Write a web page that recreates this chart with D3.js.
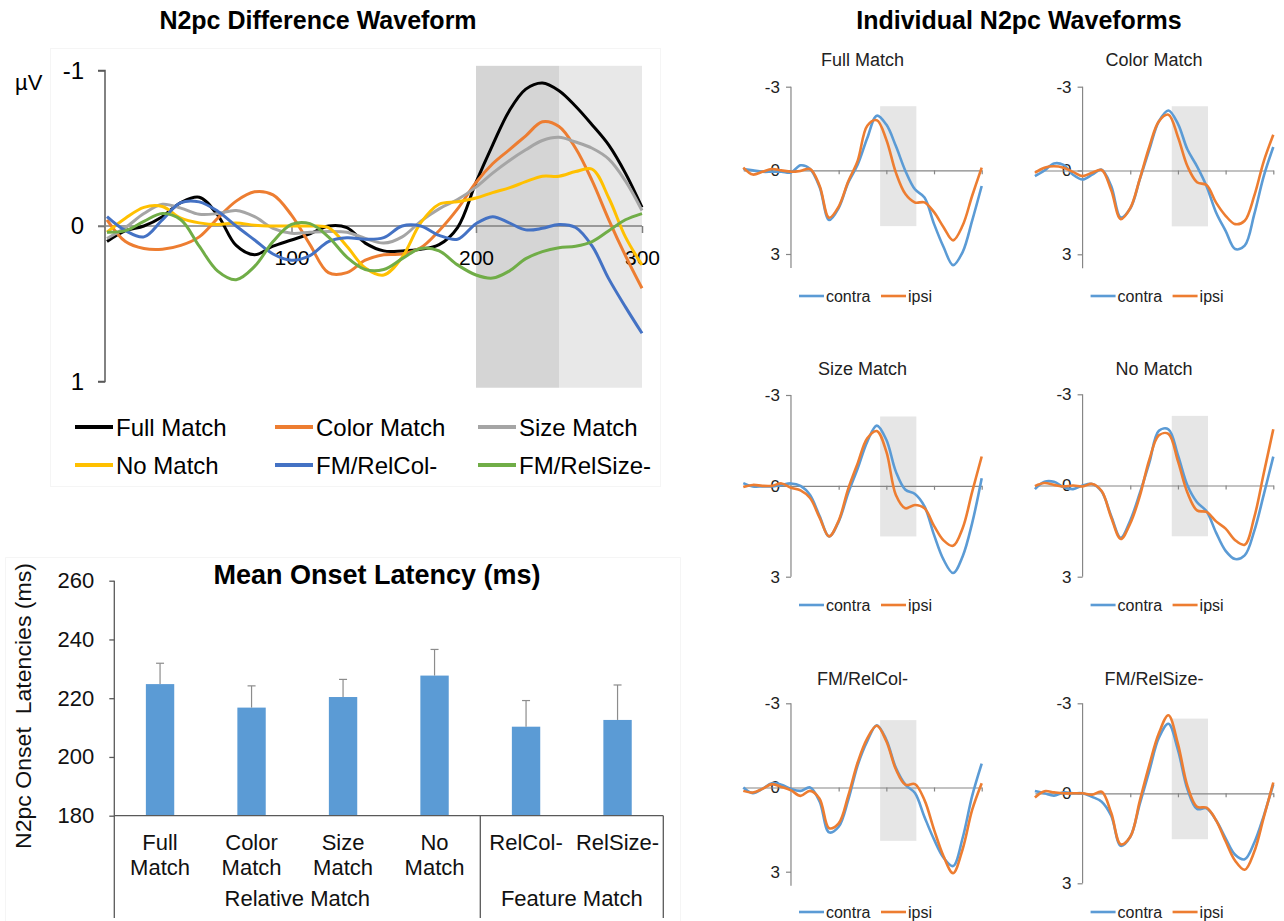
<!DOCTYPE html>
<html>
<head>
<meta charset="utf-8">
<script src="https://cdn.jsdelivr.net/npm/d3@7/dist/d3.min.js"></script>
<style>
  html,body{margin:0;padding:0;background:#fff;}
  svg{display:block;}
  text{font-family:Arial,"Liberation Sans",Helvetica,sans-serif;}
</style>
</head>
<body>
<svg id="fig" width="1284" height="921"></svg>
<script>
// ===== N2pc difference waves (µV, contra minus ipsi), one sample every 10 ms =====
const diffTimes = [0,10,20,30,40,50,60,70,80,90,100,110,120,130,140,150,160,170,180,190,200,210,220,230,240,250,260,270,280,290,300];
const diffFullMatch  = [0.10,0.03,0.00,-0.06,-0.15,-0.185,-0.07,0.125,0.185,0.13,0.09,0.05,0.00,0.01,0.11,0.16,0.16,0.15,0.12,0.01,-0.28,-0.52,-0.74,-0.88,-0.92,-0.87,-0.77,-0.65,-0.52,-0.34,-0.12];
const diffColorMatch = [-0.04,0.10,0.145,0.15,0.125,0.07,-0.05,-0.16,-0.22,-0.20,-0.07,0.12,0.30,0.30,0.22,0.185,0.18,0.14,0.03,-0.11,-0.28,-0.40,-0.49,-0.58,-0.67,-0.64,-0.50,-0.29,-0.04,0.19,0.40];
const diffSizeMatch  = [0.08,0.01,-0.08,-0.14,-0.115,-0.075,-0.08,-0.10,-0.06,0.015,0.047,0.04,0.035,0.04,0.08,0.11,0.07,-0.03,-0.11,-0.17,-0.25,-0.34,-0.42,-0.49,-0.55,-0.57,-0.54,-0.50,-0.43,-0.29,-0.10];
const diffNoMatch    = [0.04,-0.05,-0.12,-0.125,-0.05,-0.02,-0.01,-0.02,-0.005,0.0,0.0,0.0,0.01,0.13,0.27,0.315,0.20,-0.02,-0.14,-0.156,-0.18,-0.215,-0.245,-0.285,-0.32,-0.32,-0.35,-0.365,-0.18,0.07,0.25];
const diffRelCol     = [-0.06,0.03,0.07,-0.04,-0.15,-0.155,-0.095,0.0,0.09,0.18,0.22,0.19,0.10,0.075,0.085,0.075,0.0,0.0,0.06,0.085,-0.015,-0.06,-0.02,0.025,0.015,-0.01,0.01,0.13,0.34,0.52,0.69];
const diffRelSize    = [0.04,0.03,-0.03,-0.08,-0.04,0.13,0.29,0.345,0.26,0.10,-0.01,-0.015,0.07,0.20,0.28,0.28,0.21,0.145,0.16,0.25,0.315,0.335,0.29,0.21,0.165,0.14,0.13,0.10,0.03,-0.04,-0.08];
const diffSeriesNames = ["Full Match","Color Match","Size Match","No Match","FM/RelCol-","FM/RelSize-"];
const diffWindows = [[200,250],[250,300]];
const diffYTicks = [-1,0,1];
const diffXTicks = [100,200,300];

// ===== Mean N2pc onset latency (ms) with upper error bars =====
const latencyCategories = ["Full Match","Color Match","Size Match","No Match","RelCol-","RelSize-"];
const latencyLabelLines = [["Full","Match"],["Color","Match"],["Size","Match"],["No","Match"],["RelCol-"],["RelSize-"]];
const latencyMeans  = [224.8,216.8,220.4,227.7,210.3,212.6];
const latencyErrors = [7.1,7.4,6.0,8.9,8.9,11.9];
const latencyGroups = ["Relative Match","Feature Match"];
const latencyGroupSpans = [[0,3],[4,5]];
const latencyTicks = [180,200,220,240,260];

// ===== Contralateral / ipsilateral waveforms (µV), one sample every 20 ms =====
const waveTimes = [-100,-80,-60,-40,-20,0,20,40,60,80,100,120,140,160,180,200,220,240,260,280,300,320,340,360,380,400];
const contraFull  = [-0.05,0.0,0.05,0.05,0.05,0.08,-0.18,-0.05,0.6,1.78,1.35,0.44,-0.21,-1.16,-1.96,-1.64,-0.87,0.02,0.68,0.97,1.92,2.75,3.40,2.93,1.80,0.56];
const ipsiFull    = [-0.1,0.15,0.05,-0.05,0.0,0.05,0.02,-0.05,0.55,1.70,1.30,0.40,-0.35,-1.6,-1.8,-1.10,0.08,0.85,1.15,1.15,1.50,2.04,2.51,1.98,0.91,-0.1];
const contraColor = [0.2,0.0,-0.25,-0.2,0.15,0.32,0.15,-0.03,0.56,1.68,1.36,0.32,-0.75,-1.76,-2.15,-1.67,-0.75,-0.15,0.56,1.5,2.16,2.81,2.69,1.57,0.2,-0.84];
const ipsiColor   = [0.08,-0.1,-0.15,-0.1,0.05,0.2,0.08,-0.02,0.7,1.74,1.35,0.3,-0.85,-1.76,-2.0,-1.2,-0.15,0.42,0.52,1.15,1.62,1.92,1.80,0.91,-0.33,-1.28];
const contraSize  = [-0.09,0.02,0.02,0.02,-0.03,-0.08,0.0,0.3,1.0,1.67,1.18,0.24,-0.58,-1.46,-1.99,-1.52,-0.47,0.13,0.27,0.68,1.62,2.44,2.88,2.33,1.23,-0.25];
const ipsiSize    = [0.04,-0.03,0.0,0.0,-0.08,0.06,0.15,0.4,1.05,1.67,1.15,0.1,-0.75,-1.57,-1.81,-1.13,0.3,0.74,0.63,0.74,1.32,1.8,1.98,1.4,0.2,-0.97];
const contraNo    = [0.12,-0.12,-0.12,0.05,0.12,0.0,-0.05,0.2,1.0,1.72,1.15,0.25,-0.75,-1.8,-1.85,-1.0,0.0,0.55,0.85,1.55,2.15,2.42,2.3,1.5,0.3,-0.95];
const ipsiNo      = [0.02,-0.08,-0.02,0.03,0.0,0.03,-0.05,0.18,1.05,1.76,1.25,0.35,-0.85,-1.65,-1.7,-0.8,0.24,0.82,0.87,1.18,1.42,1.8,1.95,1.05,-0.4,-1.85];
const contraRelCol= [0.0,0.2,0.05,-0.15,-0.1,0.05,0.12,0.0,0.5,1.6,1.4,0.45,-0.8,-1.65,-2.22,-1.7,-0.7,-0.1,0.2,1.05,1.85,2.5,2.8,1.8,0.3,-0.85];
const ipsiRelCol  = [0.12,0.18,0.05,-0.12,-0.02,0.1,0.3,0.12,0.4,1.45,1.28,0.3,-0.9,-1.75,-2.2,-1.65,-0.65,-0.1,-0.12,0.45,1.5,2.45,3.05,2.2,0.8,-0.15];
const contraRelSize=[-0.08,0.0,0.08,-0.03,0.0,0.0,0.12,0.28,0.75,1.75,1.45,0.35,-0.75,-1.85,-2.32,-1.45,-0.13,0.52,0.5,0.9,1.5,2.05,2.2,1.65,0.75,-0.3];
const ipsiRelSize = [0.14,-0.07,-0.03,0.0,0.0,0.0,0.05,-0.05,0.65,1.7,1.45,0.25,-0.95,-2.0,-2.6,-1.65,-0.24,0.45,0.48,0.9,1.6,2.25,2.55,1.95,0.8,-0.36];
const panelNames = ["Full Match","Color Match","Size Match","No Match","FM/RelCol-","FM/RelSize-"];
const waveWindow = [187,263];
const waveYTicks = [-3,0,3];
const waveXTicks = [100,200,300,400];

// ---------------------------------------------------------------------------
const svg = d3.select("#fig");
const BLUE = "#5B9BD5", ORANGE = "#ED7D31";
const FRAME = "#f5f5f5";

// ===================== N2pc difference waveform =====================
{
  const diffValues = [diffFullMatch, diffColorMatch, diffSizeMatch, diffNoMatch, diffRelCol, diffRelSize];
  const diffColors = ["#000000","#ED7D31","#A5A5A5","#FFC000","#4472C4","#70AD47"];
  const windowFills = ["#d5d5d5","#e8e8e8"];

  const x = d3.scaleLinear().domain([0,200,300]).range([107,476,642]);
  const y = d3.scaleLinear().domain([-1,1]).range([70.5,381.5]);
  const g = svg.append("g");

  // faint chart-area frame
  g.append("rect").attr("x",50.5).attr("y",48.5).attr("width",610).attr("height",438)
    .attr("fill","none").attr("stroke",FRAME);

  svg.append("text").attr("x",318).attr("y",29).attr("text-anchor","middle")
    .attr("font-size",25).attr("font-weight","bold").text("N2pc Difference Waveform");

  // analysis windows
  g.selectAll("rect.win").data(diffWindows).join("rect")
    .attr("x",d=>x(d[0])).attr("width",d=>x(d[1])-x(d[0]))
    .attr("y",y(-1.03)).attr("height",y(1.04)-y(-1.03))
    .attr("fill",(d,i)=>windowFills[i]);

  // y axis (negative up)
  const ya = g.append("g").attr("transform","translate(105,0)")
    .call(d3.axisLeft(y).tickValues(diffYTicks).tickSize(7).tickPadding(14).tickFormat(d=>String(d)));
  ya.select(".domain").attr("stroke","#595959").attr("stroke-width",1.5).attr("d",`M-7,${y(-1)}H0V${y(1)}H-7`);
  ya.selectAll(".tick line").attr("stroke","#595959").attr("stroke-width",1.5);
  ya.selectAll(".tick text").attr("font-size",24).attr("fill","#000").attr("font-family",null);

  // zero line with time ticks
  const xa = g.append("g").attr("transform",`translate(0,${y(0)})`)
    .call(d3.axisBottom(x).tickValues(diffXTicks).tickSize(7).tickSizeOuter(0).tickPadding(17).tickFormat(d=>String(d)));
  xa.select(".domain").attr("stroke","#7f7f7f").attr("stroke-width",1.5).attr("d",`M98,0H${x(300)}`);
  xa.selectAll(".tick line").attr("stroke","#7f7f7f").attr("stroke-width",1.5);
  xa.selectAll(".tick text").attr("font-size",21).attr("fill","#000").attr("font-family",null);

  svg.append("text").attr("x",15).attr("y",90).attr("font-size",22).text("µV");

  const line = d3.line().x((d,i)=>x(diffTimes[i])).y(d=>y(d)).curve(d3.curveCatmullRom.alpha(0.5));
  g.selectAll("path.wave").data(diffValues).join("path")
    .attr("fill","none").attr("stroke",(d,i)=>diffColors[i]).attr("stroke-width",3)
    .attr("stroke-linejoin","round").attr("d",line);

  // legend: three columns, two rows
  const legCols = [75,275,478], legRows = [427,465];
  const leg = svg.append("g").selectAll("g").data(diffSeriesNames).join("g")
    .attr("transform",(d,i)=>`translate(${legCols[i%3]},${legRows[Math.floor(i/3)]})`);
  leg.append("line").attr("x1",0).attr("x2",38).attr("y1",0).attr("y2",0)
    .attr("stroke",(d,i)=>diffColors[i]).attr("stroke-width",4);
  leg.append("text").attr("x",41).attr("dy","0.36em").attr("font-size",24).text(d=>d);
}

// ===================== Mean onset latency bar chart =====================
{
  const x = d3.scaleBand().domain(latencyCategories).range([114.3,663.3]).paddingInner(0.69).paddingOuter(0.345);
  const y = d3.scaleLinear().domain([180,260]).range([815.7,580.7]);
  const g = svg.append("g");
  const axisColor = "#595959";

  g.append("path").attr("d","M5.5,921V557.5H680.5V921").attr("fill","none").attr("stroke",FRAME);

  svg.append("text").attr("x",377).attr("y",584).attr("text-anchor","middle")
    .attr("font-size",27).attr("font-weight","bold").text("Mean Onset Latency (ms)");

  const ya = g.append("g").attr("transform","translate(114.3,0)")
    .call(d3.axisLeft(y).tickValues(latencyTicks).tickSize(5).tickPadding(15).tickSizeOuter(0));
  ya.select(".domain").attr("stroke",axisColor).attr("stroke-width",1.3).attr("d",`M0,${y(260)}V918`);
  ya.selectAll(".tick line").attr("stroke",axisColor).attr("stroke-width",1.3);
  ya.selectAll(".tick text").attr("font-size",22).attr("fill","#111").attr("font-family",null);

  // bars
  g.selectAll("rect.bar").data(latencyMeans).join("rect")
    .attr("x",(d,i)=>x(latencyCategories[i])).attr("width",x.bandwidth())
    .attr("y",d=>y(d)).attr("height",d=>y(180)-y(d)).attr("fill",BLUE);

  // upper error bars
  const eb = g.selectAll("g.err").data(latencyMeans).join("g")
    .attr("transform",(d,i)=>`translate(${x(latencyCategories[i])+x.bandwidth()/2},0)`);
  eb.append("line").attr("y1",d=>y(d)).attr("y2",(d,i)=>y(d+latencyErrors[i])).attr("stroke","#8c8c8c").attr("stroke-width",1.2);
  eb.append("line").attr("x1",-4).attr("x2",4).attr("y1",(d,i)=>y(d+latencyErrors[i])).attr("y2",(d,i)=>y(d+latencyErrors[i]))
    .attr("stroke","#8c8c8c").attr("stroke-width",1.2);

  // category axis with group separators
  g.append("line").attr("x1",114.3).attr("x2",663.3).attr("y1",y(180)).attr("y2",y(180)).attr("stroke",axisColor).attr("stroke-width",1.3);
  const sepX = [x.step()*4 + 114.3, 663.3];
  g.selectAll("line.sep").data(sepX).join("line")
    .attr("x1",d=>d).attr("x2",d=>d).attr("y1",y(180)).attr("y2",918).attr("stroke",axisColor).attr("stroke-width",1.3);

  const cat = g.selectAll("text.cat").data(latencyLabelLines).join("text")
    .attr("text-anchor","middle").attr("font-size",22).attr("fill","#111")
    .attr("x",(d,i)=>x(latencyCategories[i])+x.bandwidth()/2);
  cat.selectAll("tspan").data(d=>d).join("tspan")
    .attr("x",function(){return this.parentNode.getAttribute("x");})
    .attr("y",(d,j)=>850+j*25).text(d=>d);

  g.selectAll("text.grp").data(latencyGroups).join("text")
    .attr("text-anchor","middle").attr("font-size",22).attr("fill","#111").attr("y",906)
    .attr("x",(d,i)=>{
      const a = latencyGroupSpans[i][0], b = latencyGroupSpans[i][1];
      return (x(latencyCategories[a]) + x(latencyCategories[b]) + x.bandwidth())/2;
    }).text(d=>d);

  svg.append("text").attr("transform","translate(31,706) rotate(-90)").attr("text-anchor","middle")
    .attr("font-size",22).attr("fill","#111").attr("textLength",286).attr("lengthAdjust","spacingAndGlyphs")
    .style("white-space","pre").text("N2pc Onset  Latencies (ms)");
}

// ===================== Individual contra / ipsi waveforms =====================
{
  svg.append("text").attr("x",1019).attr("y",29).attr("text-anchor","middle")
    .attr("font-size",25).attr("font-weight","bold").text("Individual N2pc Waveforms");

  const contra = [contraFull,contraColor,contraSize,contraNo,contraRelCol,contraRelSize];
  const ipsi   = [ipsiFull,ipsiColor,ipsiSize,ipsiNo,ipsiRelCol,ipsiRelSize];

  // panel frames: left edge of the time axis per column, vertical extents per panel
  const colLeft = [743.3, 1034.9];
  const titleY = [66, 375, 685];
  const legendY = [296, 605, 912];
  const frames = [
    {yTop:86.7,  yBot:254.0, max:3.5, shade:[-2.3,2.0]},
    {yTop:86.7,  yBot:254.3, max:3.5, shade:[-2.3,2.0]},
    {yTop:395.0, yBot:576.7, max:3.0, shade:[-2.29,1.67]},
    {yTop:394.3, yBot:576.7, max:3.0, shade:[-2.29,1.67]},
    {yTop:703.3, yBot:871.7, max:3.5, shade:[-2.4,1.9]},
    {yTop:703.3, yBot:883.3, max:3.0, shade:[-2.49,1.53]}
  ];
  const axisColor = "#868686";

  panelNames.forEach((name,p)=>{
    const col = p%2, row = Math.floor(p/2), f = frames[p];
    const x = d3.scaleLinear().domain([-100,400]).range([colLeft[col], colLeft[col]+238.4]);
    const y = d3.scaleLinear().domain([-3,3]).range([f.yTop,f.yBot]);
    const g = svg.append("g");

    g.append("text").attr("x",x(150)).attr("y",titleY[row]).attr("text-anchor","middle")
      .attr("font-size",18).attr("fill","#222").text(name);

    g.append("rect").attr("x",x(waveWindow[0])).attr("width",x(waveWindow[1])-x(waveWindow[0]))
      .attr("y",y(f.shade[0])).attr("height",y(f.shade[1])-y(f.shade[0])).attr("fill","#e6e6e6");

    const ya = g.append("g").attr("transform",`translate(${x(0)},0)`)
      .call(d3.axisLeft(y).tickValues(waveYTicks).tickSize(5).tickPadding(6).tickSizeOuter(0).tickFormat(d=>String(d)));
    ya.select(".domain").attr("stroke",axisColor).attr("stroke-width",1.2).attr("d",`M0,${y(-3)}V${y(f.max)}`);
    ya.selectAll(".tick line").attr("stroke",axisColor).attr("stroke-width",1.2);
    ya.selectAll(".tick text").attr("font-size",17).attr("fill","#222").attr("font-family",null);

    const xa = g.append("g").attr("transform",`translate(0,${y(0)})`)
      .call(d3.axisBottom(x).tickValues(waveXTicks).tickSize(4).tickSizeOuter(0).tickFormat(""));
    xa.select(".domain").attr("stroke",axisColor).attr("stroke-width",1.2);
    xa.selectAll(".tick line").attr("stroke",axisColor).attr("stroke-width",1.2);

    const line = d3.line().x((d,i)=>x(waveTimes[i])).y(d=>y(d)).curve(d3.curveCatmullRom.alpha(0.5));
    g.append("path").attr("fill","none").attr("stroke",BLUE).attr("stroke-width",2.6).attr("d",line(contra[p]));
    g.append("path").attr("fill","none").attr("stroke",ORANGE).attr("stroke-width",2.6).attr("d",line(ipsi[p]));

    // legend
    const lx = x(0), ly = legendY[row];
    const items = [["contra",BLUE,8],["ipsi",ORANGE,90]];
    items.forEach(([lab,c,off])=>{
      g.append("line").attr("x1",lx+off).attr("x2",lx+off+25).attr("y1",ly).attr("y2",ly).attr("stroke",c).attr("stroke-width",2.6);
      g.append("text").attr("x",lx+off+27).attr("y",ly).attr("dy","0.35em").attr("font-size",16).attr("fill","#222").text(lab);
    });
  });
}
</script>
</body>
</html>
